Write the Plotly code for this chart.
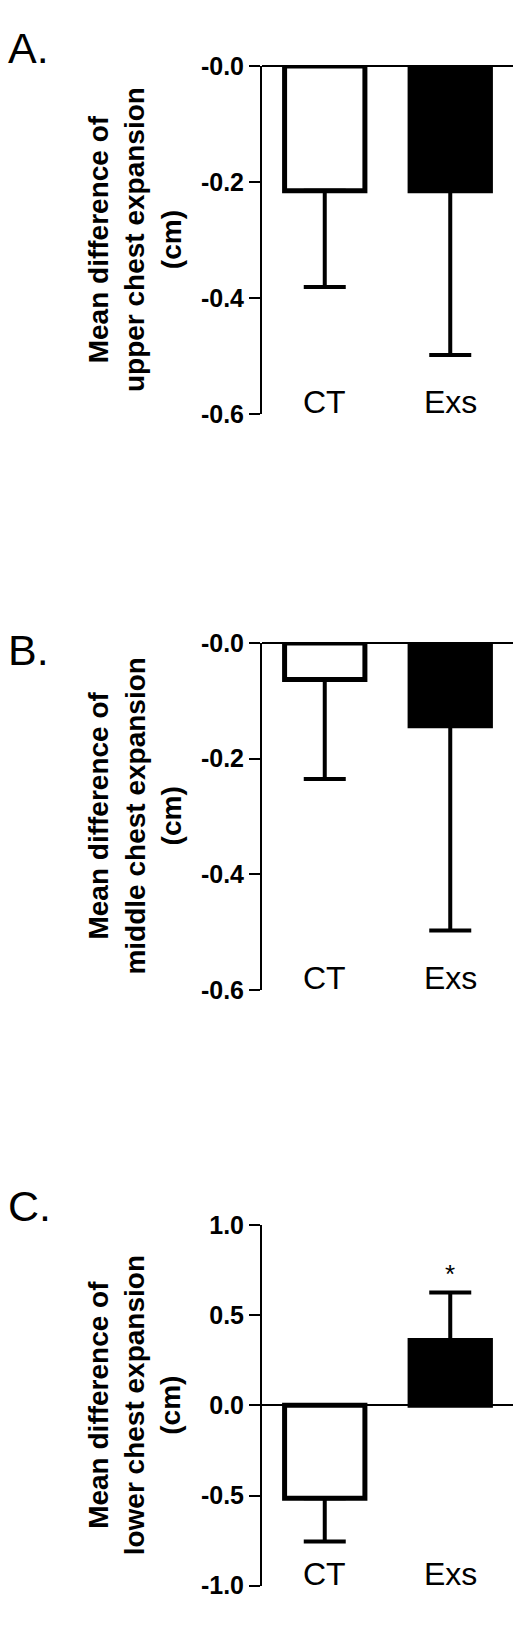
import plotly.graph_objects as go

categories = ["CT", "Exs"]
bar_colors = ["white", "black"]

# Panel A: upper chest expansion
upper_mean = [-0.215, -0.215]
upper_sd = [0.166, 0.283]
# Panel B: middle chest expansion
middle_mean = [-0.063, -0.143]
middle_sd = [0.172, 0.354]
# Panel C: lower chest expansion
lower_mean = [-0.515, 0.36]
lower_sd = [0.24, 0.266]

tick_vals_ab = [0.0, -0.2, -0.4, -0.6]
tick_text_ab = ["-0.0", "-0.2", "-0.4", "-0.6"]
tick_vals_c = [1.0, 0.5, 0.0, -0.5, -1.0]
tick_text_c = ["1.0", "0.5", "0.0", "-0.5", "-1.0"]

titles = [
    "Mean difference of<br>upper chest expansion<br>(cm)",
    "Mean difference of<br>middle chest expansion<br>(cm)",
    "Mean difference of<br>lower chest expansion<br>(cm)",
]
panel_labels = ["A.", "B.", "C."]
significance = ["", "*"]

W, H = 521, 1639
FONT = "Liberation Sans, Arial, sans-serif"

# pixel layout (top, bottom) of each plot area
panels_px = [(53, 407), (640, 993), (1232, 1599)]
label_px = [35, 647, 1213]
x_px = (262, 513)

means = [upper_mean, middle_mean, lower_mean]
sds = [upper_sd, middle_sd, lower_sd]
ranges = [[-0.6, 0.0], [-0.6, 0.0], [-1.0, 1.0]]
tvals = [tick_vals_ab, tick_vals_ab, tick_vals_c]
ttext = [tick_text_ab, tick_text_ab, tick_text_c]

fig = go.Figure()
annotations = []
for i in range(3):
    sfx = "" if i == 0 else str(i + 1)
    m = means[i]
    s = sds[i]
    plus = [sd if v >= 0 else 0 for v, sd in zip(m, s)]
    minus = [sd if v < 0 else 0 for v, sd in zip(m, s)]
    fig.add_trace(go.Bar(
        x=categories, y=m,
        xaxis="x" + sfx, yaxis="y" + sfx,
        width=0.64,
        marker=dict(color=bar_colors, line=dict(color="black", width=5)),
        error_y=dict(type="data", symmetric=False, array=plus, arrayminus=minus,
                     color="black", thickness=4, width=21),
        showlegend=False, hoverinfo="skip",
    ))
    top, bot = panels_px[i]
    dom_y = [1 - bot / H, 1 - top / H]
    fig.update_layout(**{
        "xaxis" + sfx: dict(
            domain=[x_px[0] / W, x_px[1] / W], anchor="y" + sfx,
            range=[-0.5, 1.5], type="category",
            showline=False, showgrid=False, zeroline=False, ticks="",
            showticklabels=False,
        ),
        "yaxis" + sfx: dict(
            domain=dom_y, anchor="x" + sfx,
            range=ranges[i], tickvals=tvals[i], ticktext=ttext[i],
            showline=True, linecolor="black", linewidth=2,
            ticks="outside", ticklen=11, tickwidth=2, tickcolor="black",
            showgrid=False, zeroline=True, zerolinecolor="black", zerolinewidth=2,
            tickfont=dict(family=FONT, size=25, color="black", weight="bold"),
        ),
    })
    # category labels sitting on the bottom of each plot area
    for cat in categories:
        annotations.append(dict(
            xref="x" + sfx, yref="y" + sfx, x=cat, y=ranges[i][0],
            text=cat, showarrow=False, xanchor="center", yanchor="bottom",
            yshift=-8,
            font=dict(family=FONT, size=32, color="black"),
        ))
    annotations.append(dict(
        xref="paper", yref="paper", x=135 / W, y=(dom_y[0] + dom_y[1]) / 2,
        text=titles[i], textangle=-90, showarrow=False,
        xanchor="center", yanchor="middle", align="center",
        font=dict(family=FONT, size=28, color="black", weight="bold"),
    ))
    annotations.append(dict(
        xref="paper", yref="paper", x=6 / W, y=1 - label_px[i] / H,
        text=panel_labels[i], showarrow=False, xanchor="left", yanchor="middle",
        font=dict(family=FONT, size=43, color="black"),
    ))

# significance marker on panel C
for cat, sig, v, sd in zip(categories, significance, lower_mean, lower_sd):
    if sig:
        annotations.append(dict(
            xref="x3", yref="y3", x=cat, y=v + sd + 0.10, text=sig,
            showarrow=False, xanchor="center", yanchor="middle",
            font=dict(family=FONT, size=26, color="black"),
        ))

fig.update_layout(
    width=W, height=H,
    margin=dict(l=0, r=0, t=0, b=0),
    paper_bgcolor="white", plot_bgcolor="white",
    annotations=annotations,
)

fig.write_html(
    "out.html",
    config={"displayModeBar": False},
    post_script="document.body.style.margin='0';document.body.style.overflow='hidden';",
)
